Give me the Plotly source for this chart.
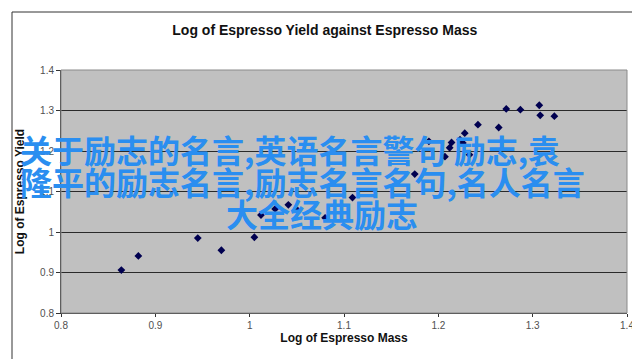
import plotly.graph_objects as go

# Data (log mass, log yield)
log_mass = [0.864, 0.882, 0.945, 0.970, 1.005, 1.012, 1.027, 1.041, 1.051, 1.080,
            1.109, 1.175, 1.190, 1.207, 1.212, 1.214, 1.223, 1.226, 1.228, 1.233,
            1.242, 1.264, 1.272, 1.287, 1.307, 1.308, 1.323]
log_yield = [0.906, 0.941, 0.985, 0.955, 0.987, 1.042, 1.057, 1.067, 1.053, 1.035,
             1.085, 1.143, 1.224, 1.186, 1.208, 1.221, 1.228, 1.220, 1.244, 1.191,
             1.265, 1.258, 1.304, 1.302, 1.313, 1.288, 1.286]

x_ticks = [0.8, 0.9, 1.0, 1.1, 1.2, 1.3, 1.4]
x_tick_labels = ["0.8", "0.9", "1", "1.1", "1.2", "1.3", "1.4"]
y_ticks = [0.8, 0.9, 1.0, 1.1, 1.2, 1.3, 1.4]
y_tick_labels = ["0.8", "0.9", "1", "1.1", "1.2", "1.3", "1.4"]

title_text = "Log of Espresso Yield against Espresso Mass"
x_title = "Log of Espresso Mass"
y_title = "Log of Espresso Yield"
overlay_lines = ["关于励志的名言,英语名言警句 励志,袁",
                 "隆平的励志名言,励志名言名句,名人名言",
                 "大全经典励志"]

W, H = 640, 359
L, R, T, B = 53, 21, 62, 54
pw, ph = W - L - R, H - T - B

def px(x):
    return (x - L) / pw

def py(y):
    return (H - B - y) / ph

fig = go.Figure()
fig.add_trace(go.Scatter(
    x=log_mass, y=log_yield, mode="markers",
    marker=dict(symbol="diamond", size=6, color="#000050"),
    showlegend=False, hoverinfo="skip"))

axis_font = dict(family="Arial, Liberation Sans", size=10, color="#505050")
fig.update_layout(
    width=W, height=H,
    margin=dict(l=L, r=R, t=T, b=B),
    paper_bgcolor="white", plot_bgcolor="#c0c0c0",
    title=dict(text="<b>" + title_text + "</b>", x=0.495, xref="container", xanchor="center",
               y=1 - 22 / H, yanchor="middle",
               font=dict(family="Arial, Liberation Sans", size=14, color="#111111")),
    xaxis=dict(range=[0.8, 1.4], tickvals=x_ticks, ticktext=x_tick_labels,
               showgrid=False, zeroline=False, showline=True, linecolor="#333333",
               ticks="outside", ticklen=3, tickcolor="#333333", tickfont=axis_font,
               title=dict(text="<b>" + x_title + "</b>", standoff=3,
                          font=dict(family="Arial, Liberation Sans", size=12, color="#111111"))),
    yaxis=dict(range=[0.8, 1.4], tickvals=y_ticks, ticktext=y_tick_labels,
               showgrid=True, gridcolor="#2a2a2a", gridwidth=1, zeroline=False,
               showline=True, linecolor="#333333",
               ticks="outside", ticklen=4, tickcolor="#333333", tickfont=axis_font,
               title=dict(text="<b>" + y_title + "</b>", standoff=12,
                          font=dict(family="Arial, Liberation Sans", size=12, color="#111111"))),
)

# plot area border (top/right lighter)
fig.add_shape(type="rect", xref="paper", yref="paper", x0=0, y0=0, x1=1, y1=1,
              line=dict(color="#8a8a8a", width=1), layer="above")
# outer chart border
fig.add_shape(type="rect", xref="paper", yref="paper",
              x0=px(4), y0=py(354), x1=px(635), y1=py(4),
              line=dict(color="#333333", width=1))

# overlay text lines
starts = [(10, 141), (10, 173), (216, 205)]
for text, (sx, sy) in zip(overlay_lines, starts):
    fig.add_annotation(text="<b>" + text + "</b>", xref="paper", yref="paper",
                       x=px(sx), y=py(sy), xanchor="left", yanchor="middle",
                       showarrow=False,
                       font=dict(family="Noto Sans CJK SC", size=32, color="#2a8ef0"))

fig.write_html("out.html")
